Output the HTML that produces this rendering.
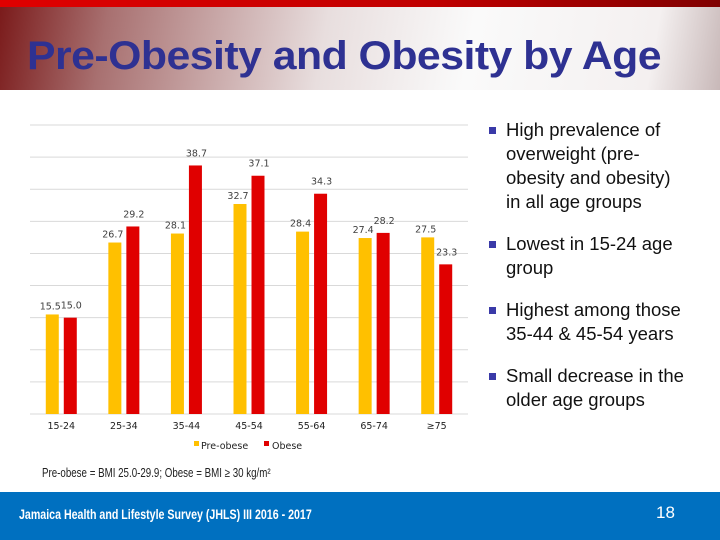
<!DOCTYPE html>
<html><head><meta charset="utf-8"><style>
body{margin:0;width:720px;height:540px;overflow:hidden;background:#fff;font-family:"Liberation Sans",sans-serif;position:relative}
#hdr{position:absolute;left:0;top:0;width:720px;height:90px;background:linear-gradient(100deg,#7a1a1a 0%,#a87070 15%,#e8dede 45%,#fafafa 65%,#f4f0f0 90%,#c8b8b8 100%)}
#stripe{position:absolute;left:0;top:0;width:720px;height:7px;background:linear-gradient(90deg,#e00000,#c00000 60%,#800000)}
#title{position:absolute;left:27px;top:34px;font-size:40px;font-weight:bold;color:#2e3192;letter-spacing:-0.5px;transform:scaleX(1.07);transform-origin:0 0;white-space:nowrap}
.b{position:absolute;left:489px;width:7px;height:7px;background:#3a3aa8}
.bt{position:absolute;left:506px;font-size:18.5px;line-height:24px;color:#111;white-space:nowrap}
#note{position:absolute;left:42px;top:466px;font-size:12.5px;color:#222;transform:scaleX(0.78);transform-origin:0 0;white-space:nowrap}
#foot{position:absolute;left:0;top:492px;width:720px;height:48px;background:#0070c0}
#ft{position:absolute;left:19px;top:506px;font-size:14px;font-weight:bold;color:#fff;transform:scaleX(0.76);transform-origin:0 0;white-space:nowrap}
#pg{position:absolute;left:656px;top:503px;font-size:17px;color:#fff}
</style></head><body>
<div id="hdr"></div>
<div id="stripe"></div>
<div id="title">Pre-Obesity and Obesity by Age</div>
<svg id="chart" width="720" height="540" style="position:absolute;left:0;top:0"></svg>
<div class="b" style="top:127px"></div>
<div class="bt" style="top:118px">High prevalence of<br>overweight (pre-<br>obesity and obesity)<br>in all age groups</div>
<div class="b" style="top:241px"></div>
<div class="bt" style="top:232px">Lowest in 15-24 age<br>group</div>
<div class="b" style="top:307px"></div>
<div class="bt" style="top:298px">Highest among those<br>35-44 &amp; 45-54 years</div>
<div class="b" style="top:373px"></div>
<div class="bt" style="top:364px">Small decrease in the<br>older age groups</div>
<div id="note">Pre-obese = BMI 25.0-29.9; Obese = BMI ≥ 30 kg/m²</div>
<div id="foot"></div>
<div id="ft">Jamaica Health and Lifestyle Survey (JHLS) III 2016 - 2017</div>
<div id="pg">18</div>
<script>
const categories=["15-24","25-34","35-44","45-54","55-64","65-74","≥75"];
const preObese=[15.5,26.7,28.1,32.7,28.4,27.4,27.5];
const obese=[15.0,29.2,38.7,37.1,34.3,28.2,23.3];
const gridTicks=[0,5,10,15,20,25,30,35,40,45];
const NS="http://www.w3.org/2000/svg";
const svg=document.getElementById('chart');
const x0=30,x1=468,yBase=414,yTop=125,yMax=45;
const catW=(x1-x0)/categories.length;
const y=v=>yBase-(v/yMax)*(yBase-yTop);
const cx=i=>x0+catW*(i+0.5);
function el(t,a){const e=document.createElementNS(NS,t);for(const k in a)e.setAttribute(k,a[k]);svg.appendChild(e);return e;}
gridTicks.forEach(t=>{const l=el('line',{x1:x0,x2:x1,y1:y(t),y2:y(t),stroke:'#d9d9d9','stroke-width':1});

});
function txt(s,xx,yy,extra){const t=el('text',Object.assign({x:xx,y:yy,'font-size':'9.5','font-family':'DejaVu Sans, sans-serif','text-anchor':'middle',fill:'#404040'},extra||{}));t.textContent=s;return t;}
categories.forEach((c,i)=>{
 const r1=el('rect',{x:cx(i)-15.5,y:y(preObese[i]),width:13,height:yBase-y(preObese[i]),fill:'#ffc000'});
 
 
 const r2=el('rect',{x:cx(i)+2.5,y:y(obese[i]),width:13,height:yBase-y(obese[i]),fill:'#e00000'});
 
 
 const l1=txt(preObese[i].toFixed(1),cx(i)-11,y(preObese[i])-5);
 
 
 const l2=txt(obese[i].toFixed(1),cx(i)+10,y(obese[i])-9);
 
 
 const xl=txt(c,cx(i),429,{fill:'#222'});
 
 
});
const lg1=el('rect',{x:194,y:441,width:5,height:5,fill:'#ffc000'});


const lt1=txt('Pre-obese',201,449,{'text-anchor':'start',fill:'#222'});


const lg2=el('rect',{x:264,y:441,width:5,height:5,fill:'#e00000'});


const lt2=txt('Obese',272,449,{'text-anchor':'start',fill:'#222'});


</script>
</body></html>
